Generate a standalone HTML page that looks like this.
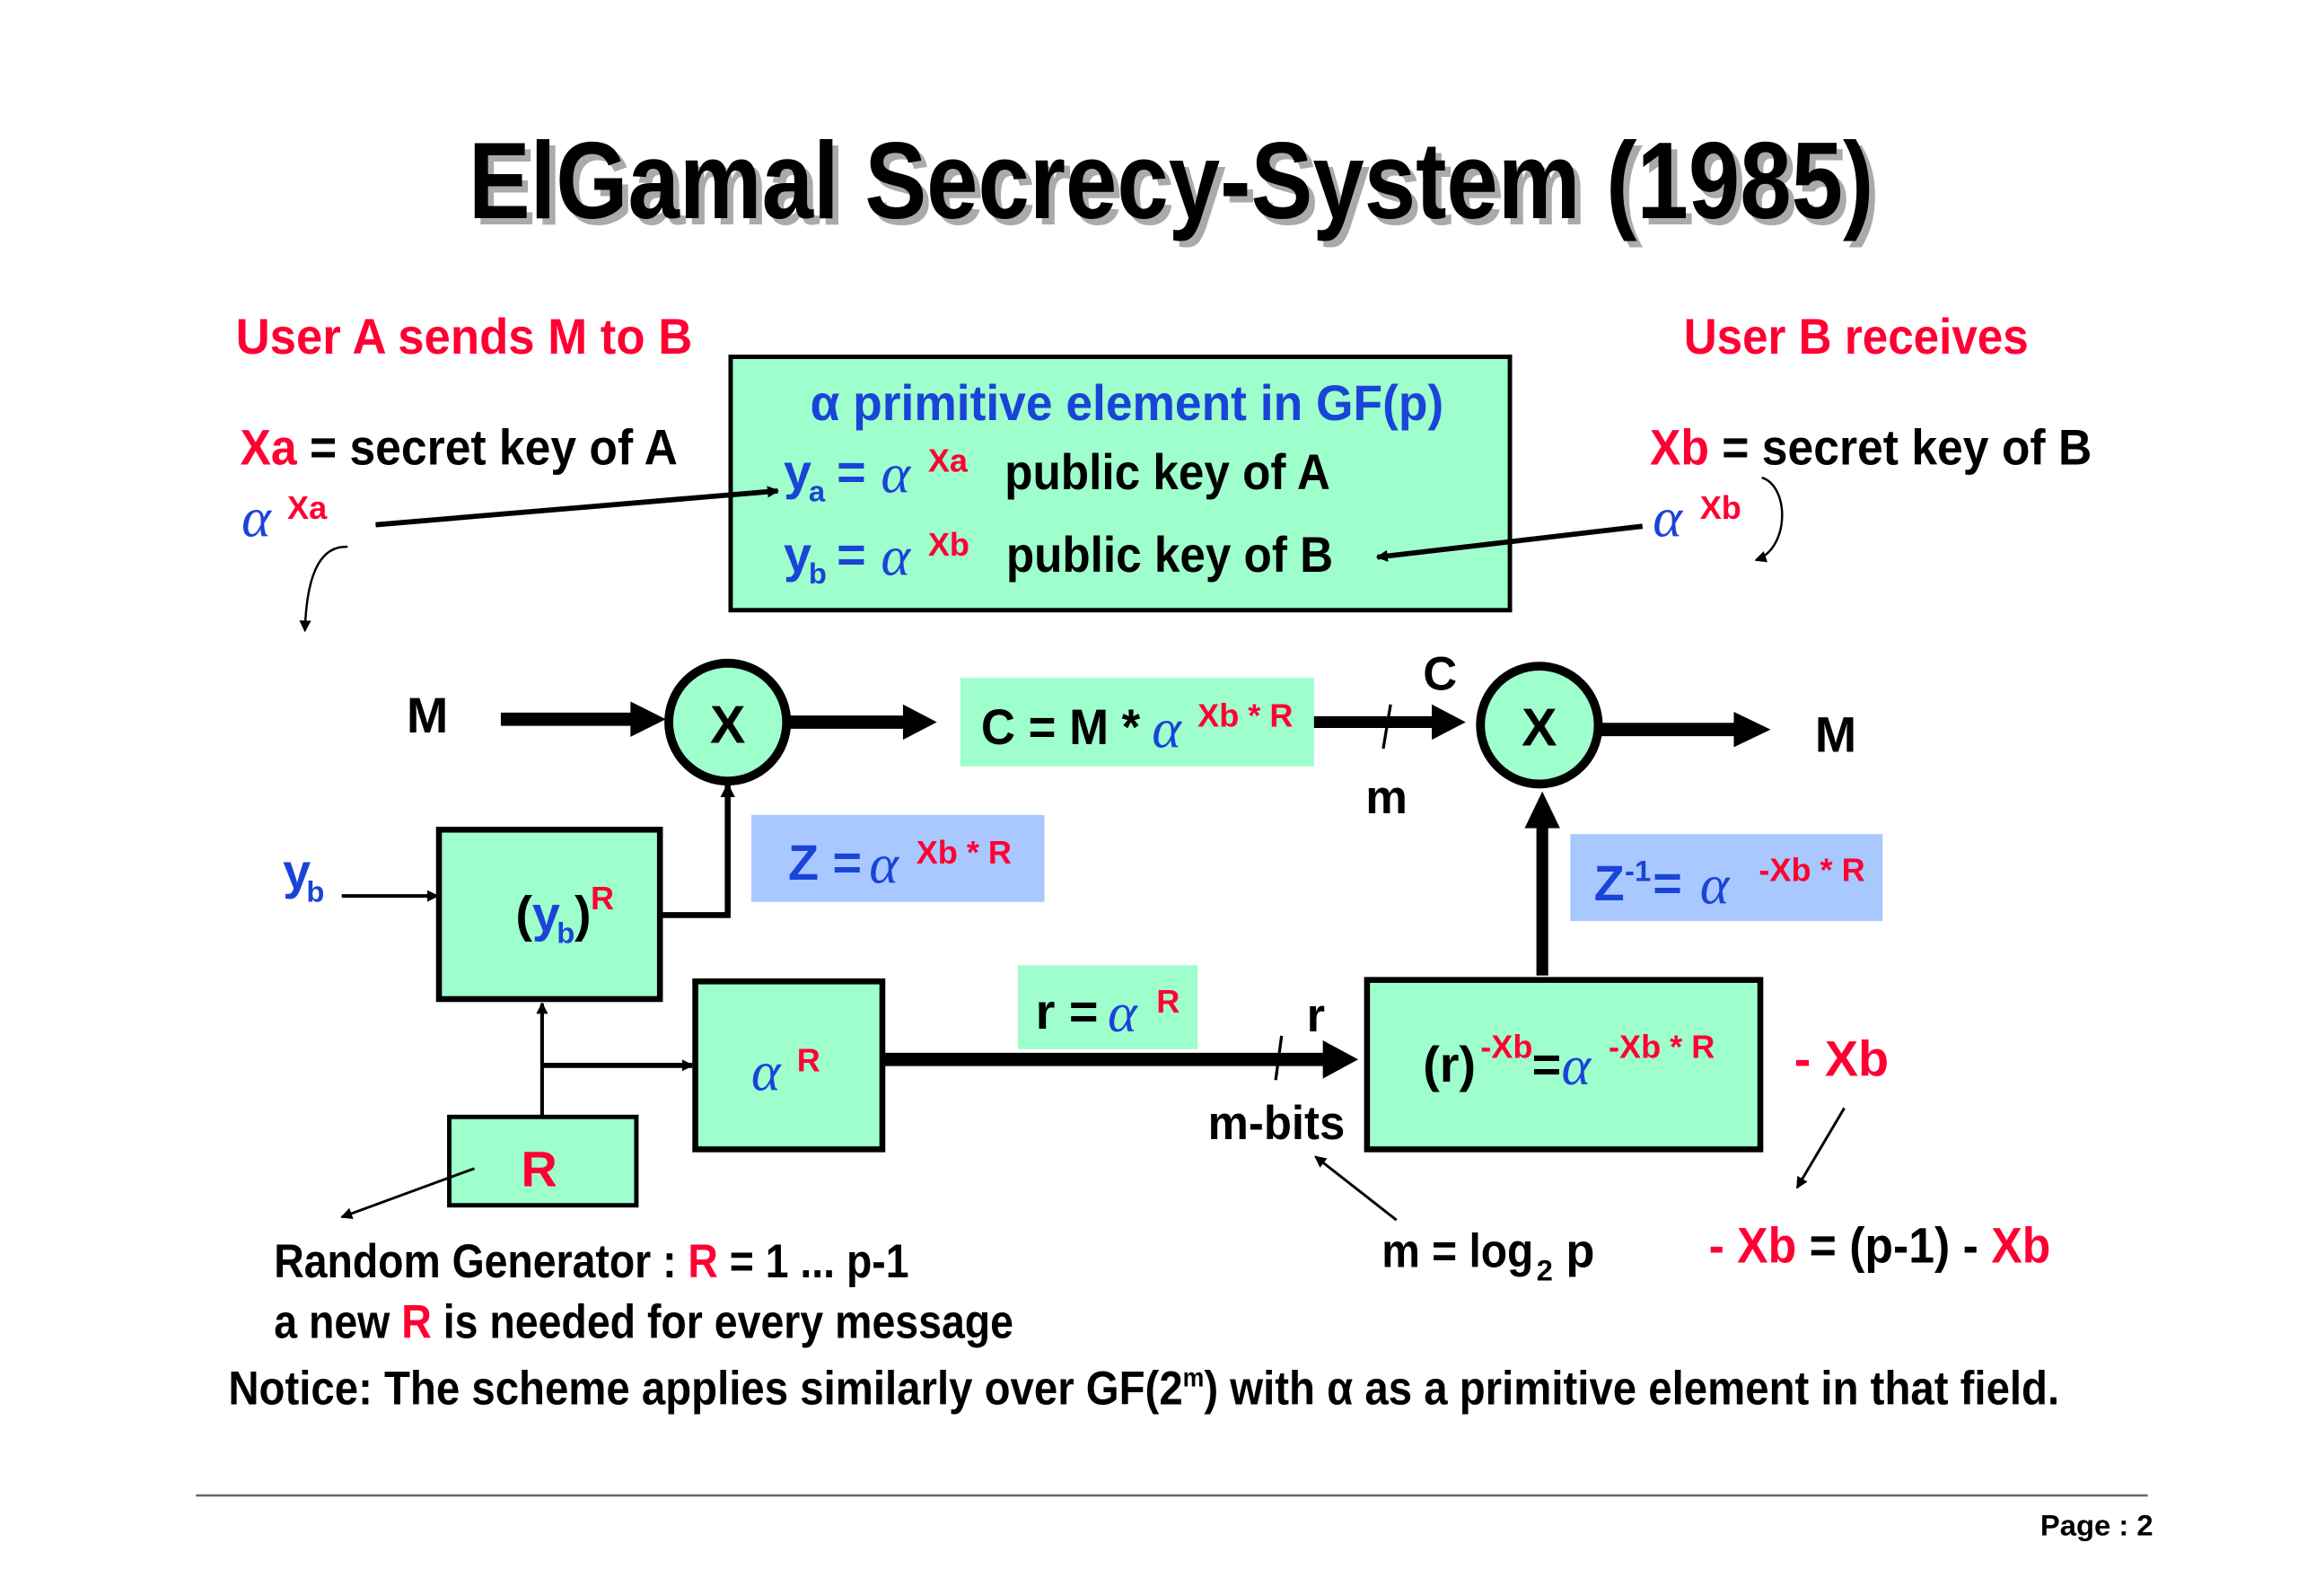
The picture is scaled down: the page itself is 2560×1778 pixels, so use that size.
<!DOCTYPE html>
<html><head><meta charset="utf-8"><style>
html,body{margin:0;padding:0;background:#fff;}
svg{display:block;}
text{font-family:"Liberation Sans",sans-serif;font-weight:bold;}
.k{fill:#000}.r{fill:#ff0033}.b{fill:#1a44d8}
.a{font-family:"Liberation Serif",serif;font-style:italic;font-weight:normal;fill:#1a44d8}
</style></head><body>
<svg width="2560" height="1778" viewBox="0 0 1560 1083" xmlns="http://www.w3.org/2000/svg">
<defs>
<marker id="ah" markerWidth="8" markerHeight="8" refX="7" refY="4" orient="auto" markerUnits="userSpaceOnUse"><path d="M0,0 L8,4 L0,8 z" fill="#000"/></marker>
<marker id="ahs" markerWidth="10" markerHeight="10" refX="9" refY="5" orient="auto" markerUnits="userSpaceOnUse"><path d="M0,0 L10,5 L0,10 z" fill="#000"/></marker>
</defs>
<rect width="1560" height="1083" fill="#fff"/>
<text x="799" y="152" font-size="74" fill="#aaa" text-anchor="middle" textLength="954" lengthAdjust="spacingAndGlyphs">ElGamal Secrecy-System (1985)</text>
<text x="795" y="148" font-size="74" class="k" text-anchor="middle" textLength="954" lengthAdjust="spacingAndGlyphs">ElGamal Secrecy-System (1985)</text>

<text x="160" y="240" font-size="34" class="r" textLength="310" lengthAdjust="spacingAndGlyphs">User A sends M  to B</text>
<text x="1143" y="240" font-size="34" class="r" textLength="234" lengthAdjust="spacingAndGlyphs">User B receives</text>

<rect x="496" y="242" width="529" height="172" fill="#9effcc" stroke="#000" stroke-width="3"/>
<text x="550" y="285" font-size="34" class="b" textLength="430" lengthAdjust="spacingAndGlyphs">α  primitive element in GF(p)</text>
<text x="532" y="332" font-size="34" class="b">y</text><text x="549" y="340" font-size="20" class="b">a</text>
<text x="568" y="332" font-size="34" class="b">=</text>
<text x="598" y="334" font-size="38" class="a">α</text>
<text x="630" y="320" font-size="22" class="r">Xa</text>
<text x="682" y="332" font-size="34" class="k" textLength="221" lengthAdjust="spacingAndGlyphs">public key of A</text>
<text x="532" y="388" font-size="34" class="b">y</text><text x="549" y="396" font-size="20" class="b">b</text>
<text x="568" y="388" font-size="34" class="b">=</text>
<text x="598" y="390" font-size="38" class="a">α</text>
<text x="630" y="377" font-size="22" class="r">Xb</text>
<text x="683" y="388" font-size="34" class="k" textLength="222" lengthAdjust="spacingAndGlyphs">public key of B</text>

<text x="163" y="315" font-size="34" class="k" textLength="297" lengthAdjust="spacingAndGlyphs"><tspan class="r">Xa</tspan> = secret key of A</text>
<text x="164" y="364" font-size="38" class="a">α</text>
<text x="195" y="352" font-size="22" class="r">Xa</text>
<line x1="255" y1="356" x2="528" y2="333" stroke="#000" stroke-width="3.5" marker-end="url(#ah)"/>
<path d="M236,371 C215,370 208,395 207,428" fill="none" stroke="#000" stroke-width="1.5" marker-end="url(#ah)"/>

<text x="1120" y="315" font-size="34" class="k" textLength="300" lengthAdjust="spacingAndGlyphs"><tspan class="r">Xb</tspan> = secret key of B</text>
<text x="1122" y="364" font-size="38" class="a">α</text>
<text x="1154" y="352" font-size="22" class="r">Xb</text>
<line x1="1115" y1="357" x2="935" y2="378" stroke="#000" stroke-width="3.5" marker-end="url(#ah)"/>
<path d="M1196,324 C1215,330 1215,372 1192,380" fill="none" stroke="#000" stroke-width="1.5" marker-end="url(#ah)"/>

<text x="276" y="497" font-size="34" class="k">M</text>
<line x1="340" y1="488" x2="430" y2="488" stroke="#000" stroke-width="9"/>
<path d="M428,476 L452,488 L428,500 z" fill="#000"/>
<circle cx="494" cy="490" r="40" fill="#9effcc" stroke="#000" stroke-width="6"/>
<text x="494" y="504" font-size="36" class="k" text-anchor="middle">X</text>
<line x1="536" y1="490" x2="615" y2="490" stroke="#000" stroke-width="9"/>
<path d="M613,478 L636,490 L613,502 z" fill="#000"/>

<rect x="652" y="460" width="240" height="60" fill="#9effcc"/>
<text x="666" y="505" font-size="34" class="k" textLength="108" lengthAdjust="spacingAndGlyphs">C = M *</text>
<text x="782" y="507" font-size="38" class="a">α</text>
<text x="813" y="493" font-size="22" class="r">Xb * R</text>
<line x1="892" y1="490" x2="975" y2="490" stroke="#000" stroke-width="8"/>
<path d="M972,478 L995,490 L972,502 z" fill="#000"/>
<line x1="944" y1="478" x2="939" y2="508" stroke="#000" stroke-width="2"/>
<text x="966" y="468" font-size="32" class="k">C</text>
<text x="927" y="552" font-size="32" class="k">m</text>

<circle cx="1045" cy="492" r="40" fill="#9effcc" stroke="#000" stroke-width="6"/>
<text x="1045" y="506" font-size="36" class="k" text-anchor="middle">X</text>
<line x1="1087" y1="495" x2="1180" y2="495" stroke="#000" stroke-width="9"/>
<path d="M1177,483 L1202,495 L1177,507 z" fill="#000"/>
<text x="1232" y="510" font-size="34" class="k">M</text>

<rect x="510" y="553" width="199" height="59" fill="#a8c8ff"/>
<text x="535" y="597" font-size="34" class="b">Z =</text>
<text x="590" y="599" font-size="38" class="a">α</text>
<text x="622" y="586" font-size="22" class="r">Xb * R</text>

<text x="192" y="603" font-size="34" class="b">y</text><text x="208" y="612" font-size="20" class="b">b</text>
<line x1="232" y1="608" x2="297" y2="608" stroke="#000" stroke-width="2.5" marker-end="url(#ah)"/>
<rect x="298" y="563" width="150" height="115" fill="#9effcc" stroke="#000" stroke-width="4"/>
<text x="350" y="632" font-size="34" class="k">(<tspan class="b">y</tspan></text>
<text x="378" y="640" font-size="20" class="b">b</text>
<text x="390" y="632" font-size="34" class="k">)</text>
<text x="401" y="617" font-size="22" class="r">R</text>
<path d="M448,621 L494,621 L494,532" fill="none" stroke="#000" stroke-width="4" marker-end="url(#ahs)"/>

<rect x="472" y="666" width="127" height="114" fill="#9effcc" stroke="#000" stroke-width="4"/>
<text x="510" y="740" font-size="38" class="a">α</text>
<text x="541" y="727" font-size="22" class="r">R</text>

<rect x="305" y="758" width="127" height="60" fill="#9effcc" stroke="#000" stroke-width="3"/>
<text x="366" y="805" font-size="34" class="r" text-anchor="middle">R</text>
<line x1="368" y1="758" x2="368" y2="681" stroke="#000" stroke-width="2.5" marker-end="url(#ah)"/>
<line x1="368" y1="723" x2="470" y2="723" stroke="#000" stroke-width="3.5" marker-end="url(#ah)"/>
<line x1="322" y1="793" x2="232" y2="826" stroke="#000" stroke-width="1.8" marker-end="url(#ah)"/>

<rect x="691" y="655" width="122" height="57" fill="#9effcc"/>
<text x="703" y="698" font-size="34" class="k">r =</text>
<text x="752" y="700" font-size="38" class="a">α</text>
<text x="785" y="687" font-size="22" class="r">R</text>
<line x1="599" y1="719" x2="900" y2="719" stroke="#000" stroke-width="9"/>
<path d="M898,706 L922,719 L898,732 z" fill="#000"/>
<line x1="870" y1="703" x2="866" y2="733" stroke="#000" stroke-width="2"/>
<text x="887" y="700" font-size="32" class="k">r</text>
<text x="820" y="773" font-size="32" class="k" textLength="93" lengthAdjust="spacingAndGlyphs">m-bits</text>

<rect x="928" y="665" width="267" height="115" fill="#9effcc" stroke="#000" stroke-width="4"/>
<text x="966" y="734" font-size="34" class="k">(r)</text>
<text x="1005" y="718" font-size="22" class="r">-Xb</text>
<text x="1040" y="734" font-size="34" class="k">=</text>
<text x="1060" y="736" font-size="38" class="a">α</text>
<text x="1092" y="718" font-size="22" class="r">-Xb * R</text>
<line x1="1047" y1="662" x2="1047" y2="560" stroke="#000" stroke-width="8"/>
<path d="M1035,562 L1047,537 L1059,562 z" fill="#000"/>

<rect x="1066" y="566" width="212" height="59" fill="#a8c8ff"/>
<text x="1082" y="611" font-size="34" class="b">Z</text>
<text x="1103" y="598" font-size="20" class="b">-1</text>
<text x="1122" y="611" font-size="34" class="b">=</text>
<text x="1154" y="613" font-size="38" class="a">α</text>
<text x="1194" y="598" font-size="22" class="r">-Xb * R</text>

<text x="1218" y="730" font-size="34" class="r">- Xb</text>
<line x1="1252" y1="752" x2="1220" y2="806" stroke="#000" stroke-width="1.8" marker-end="url(#ah)"/>
<text x="1160" y="857" font-size="34" class="k" textLength="232" lengthAdjust="spacingAndGlyphs"><tspan class="r">- Xb</tspan> = (p-1) - <tspan class="r">Xb</tspan></text>

<text x="938" y="860" font-size="32" class="k" textLength="103" lengthAdjust="spacingAndGlyphs">m = log</text>
<text x="1043" y="869" font-size="20" class="k">2</text>
<text x="1063" y="860" font-size="32" class="k">p</text>
<line x1="948" y1="828" x2="893" y2="785" stroke="#000" stroke-width="1.8" marker-end="url(#ah)"/>

<text x="186" y="867" font-size="32" class="k" textLength="431" lengthAdjust="spacingAndGlyphs">Random Generator : <tspan class="r">R</tspan> = 1 ... p-1</text>
<text x="186" y="908" font-size="32" class="k" textLength="502" lengthAdjust="spacingAndGlyphs">a new <tspan class="r">R</tspan> is needed for every message</text>
<text x="155" y="953" font-size="32" class="k" textLength="1243" lengthAdjust="spacingAndGlyphs">Notice: The scheme applies similarly  over GF(2<tspan font-size="18" dy="-12">m</tspan><tspan dy="12">) with α  as a primitive element in that field.</tspan></text>

<line x1="133" y1="1015" x2="1458" y2="1015" stroke="#666" stroke-width="1.5"/>
<text x="1385" y="1042" font-size="20" class="k">Page :  2</text>
</svg>
</body></html>
